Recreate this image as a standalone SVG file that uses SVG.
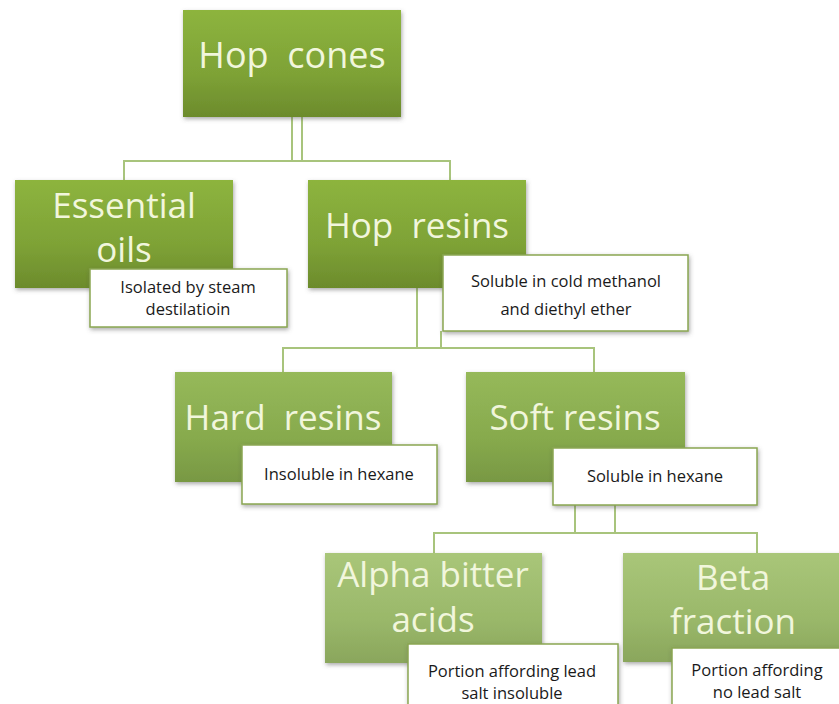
<svg xmlns="http://www.w3.org/2000/svg" width="839" height="704" viewBox="0 0 839 704">
<defs>
<linearGradient id="g1" x1="0" y1="0" x2="0" y2="1">
<stop offset="0" stop-color="#8db43e"/><stop offset="0.6" stop-color="#7ea236"/><stop offset="1" stop-color="#6c8b2c"/>
</linearGradient>
<linearGradient id="g3" x1="0" y1="0" x2="0" y2="1">
<stop offset="0" stop-color="#96b95a"/><stop offset="0.6" stop-color="#87aa4d"/><stop offset="1" stop-color="#789843"/>
</linearGradient>
<linearGradient id="g4" x1="0" y1="0" x2="0" y2="1">
<stop offset="0" stop-color="#a9c679"/><stop offset="0.6" stop-color="#9ab86a"/><stop offset="1" stop-color="#8aa65c"/>
</linearGradient>
<filter id="sh" x="-10%" y="-10%" width="120%" height="130%">
<feDropShadow dx="1" dy="2" stdDeviation="2" flood-color="#555" flood-opacity="0.5"/>
</filter>
</defs>
<style>
.conn{fill:none;stroke:#a8c47c;stroke-width:2}
.t{font-family:"Open Sans","Liberation Sans",sans-serif;fill:#f1f6dc;text-anchor:middle;white-space:pre}
.t1{font-size:35px}
.n{fill:#ffffff;stroke:#8aa652;stroke-width:1.5;filter:url(#sh)}
.nt{font-family:"Open Sans","Liberation Sans",sans-serif;font-size:16.5px;fill:#1a1a1a;text-anchor:middle;font-weight:500}
.b1{fill:url(#g1);filter:url(#sh)}
.b3{fill:url(#g3);filter:url(#sh)}
.b4{fill:url(#g4);filter:url(#sh)}
</style>
<rect width="839" height="704" fill="#ffffff"/>
<g id="connectors">
<line class="conn" x1="292" y1="117" x2="292" y2="161"/>
<line class="conn" x1="302" y1="117" x2="302" y2="161"/>
<polyline class="conn" points="124,180 124,161 450,161 450,180"/>
<line class="conn" x1="417" y1="288" x2="417" y2="348"/>
<line class="conn" x1="441" y1="331" x2="441" y2="348"/>
<polyline class="conn" points="283,372 283,348 594,348 594,372"/>
<line class="conn" x1="575" y1="505" x2="575" y2="533"/>
<line class="conn" x1="615" y1="505" x2="615" y2="533"/>
<polyline class="conn" points="434,553 434,533 757,533 757,553"/>
</g>
<g id="hop-cones">
<rect class="b1" x="183" y="10" width="218" height="107"/>
<text class="t" x="292" y="68" font-size="36" xml:space="preserve">Hop  cones</text>
</g>
<g id="essential-oils">
<rect class="b1" x="15" y="180" width="218" height="108"/>
<text class="t t1" x="124" y="218">Essential</text>
<text class="t t1" x="124" y="262">oils</text>
<g id="note-essential">
<rect class="n" x="90" y="269" width="197" height="58"/>
<text class="nt" x="188" y="293">Isolated by steam</text>
<text class="nt" x="188" y="315">destilatioin</text>
</g>
</g>
<g id="hop-resins">
<rect class="b1" x="308" y="180" width="218" height="108"/>
<text class="t t1" x="417" y="238" xml:space="preserve">Hop  resins</text>
<g id="note-hop-resins">
<rect class="n" x="443" y="255" width="245" height="76"/>
<text class="nt" x="566" y="287">Soluble in cold methanol</text>
<text class="nt" x="566" y="315">and diethyl ether</text>
</g>
</g>
<g id="hard-resins">
<rect class="b3" x="175" y="372" width="217" height="110"/>
<text class="t t1" x="283" y="430" xml:space="preserve">Hard  resins</text>
<g id="note-hard">
<rect class="n" x="242" y="445" width="195" height="59"/>
<text class="nt" x="339" y="480">Insoluble in hexane</text>
</g>
</g>
<g id="soft-resins">
<rect class="b3" x="466" y="372" width="219" height="110"/>
<text class="t t1" x="575" y="430">Soft resins</text>
<g id="note-soft">
<rect class="n" x="553" y="448" width="204" height="57"/>
<text class="nt" x="655" y="482">Soluble in hexane</text>
</g>
</g>
<g id="alpha-bitter-acids">
<rect class="b4" x="325" y="553" width="217" height="110"/>
<text class="t t1" x="433" y="587">Alpha bitter</text>
<text class="t t1" x="433" y="632">acids</text>
<g id="note-alpha">
<rect class="n" x="408" y="644" width="210" height="70"/>
<text class="nt" x="512" y="677">Portion affording lead</text>
<text class="nt" x="512" y="699">salt insoluble</text>
</g>
</g>
<g id="beta-fraction">
<rect class="b4" x="623" y="553" width="230" height="109"/>
<text class="t t1" x="733" y="590">Beta</text>
<text class="t t1" x="733" y="634">fraction</text>
<g id="note-beta">
<rect class="n" x="672" y="648" width="180" height="66"/>
<text class="nt" x="757" y="676">Portion affording</text>
<text class="nt" x="757" y="698">no lead salt</text>
</g>
</g>
</svg>
